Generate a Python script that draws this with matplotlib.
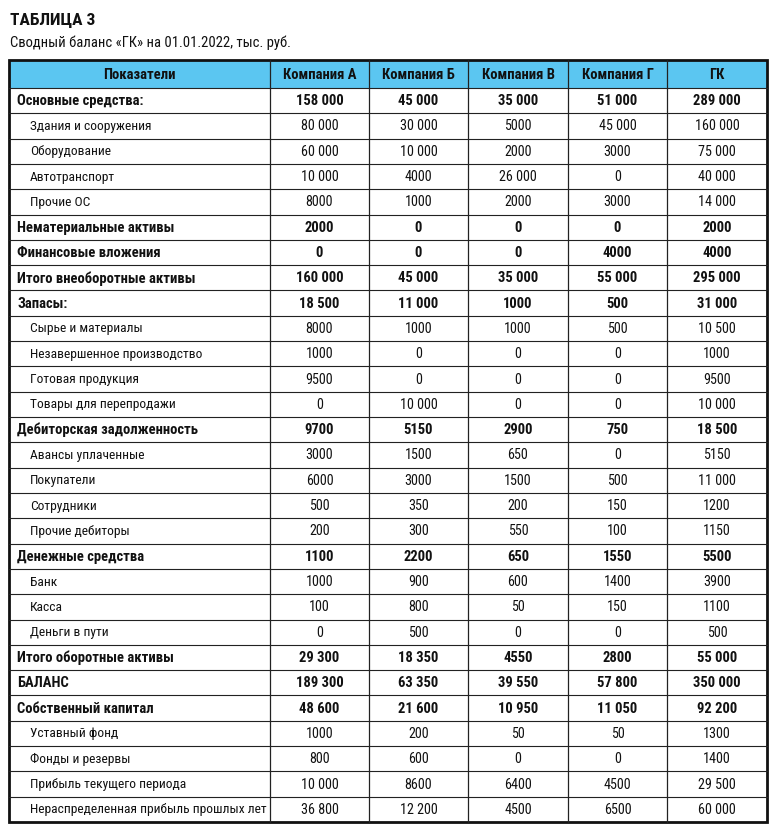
import matplotlib
matplotlib.use("Agg")
import matplotlib.pyplot as plt
from matplotlib.patches import Rectangle
from matplotlib import font_manager

names = {f.name for f in font_manager.fontManager.ttflist}
cands = ['Roboto Condensed', 'DejaVu Sans Condensed', 'Liberation Sans Narrow']
fam = [c for c in cands if c in names] + ['Liberation Sans', 'DejaVu Sans']
plt.rcParams['font.family'] = fam

title = "ТАБЛИЦА 3"
subtitle = "Сводный баланс «ГК» на 01.01.2022, тыс. руб."
columns = ["Показатели", "Компания А", "Компания Б", "Компания В", "Компания Г", "ГК"]

labels = [
    "Основные средства:", "Здания и сооружения", "Оборудование", "Автотранспорт", "Прочие ОС",
    "Нематериальные активы", "Финансовые вложения", "Итого внеоборотные активы",
    "Запасы:", "Сырье и материалы", "Незавершенное производство", "Готовая продукция",
    "Товары для перепродажи", "Дебиторская задолженность", "Авансы уплаченные", "Покупатели",
    "Сотрудники", "Прочие дебиторы", "Денежные средства", "Банк", "Касса", "Деньги в пути",
    "Итого оборотные активы", "БАЛАНС", "Собственный капитал", "Уставный фонд",
    "Фонды и резервы", "Прибыль текущего периода", "Нераспределенная прибыль прошлых лет",
]
bold_rows = [1, 0, 0, 0, 0, 1, 1, 1, 1, 0, 0, 0, 0, 1, 0, 0, 0, 0, 1, 0, 0, 0, 1, 1, 1, 0, 0, 0, 0]

comp_a = [158000, 80000, 60000, 10000, 8000, 2000, 0, 160000, 18500, 8000, 1000, 9500, 0,
          9700, 3000, 6000, 500, 200, 1100, 1000, 100, 0, 29300, 189300, 48600, 1000, 800, 10000, 36800]
comp_b = [45000, 30000, 10000, 4000, 1000, 0, 0, 45000, 11000, 1000, 0, 0, 10000,
          5150, 1500, 3000, 350, 300, 2200, 900, 800, 500, 18350, 63350, 21600, 200, 600, 8600, 12200]
comp_v = [35000, 5000, 2000, 26000, 2000, 0, 0, 35000, 1000, 1000, 0, 0, 0,
          2900, 650, 1500, 200, 550, 650, 600, 50, 0, 4550, 39550, 10950, 50, 0, 6400, 4500]
comp_g = [51000, 45000, 3000, 0, 3000, 0, 4000, 55000, 500, 500, 0, 0, 0,
          750, 0, 500, 150, 100, 1550, 1400, 150, 0, 2800, 57800, 11050, 50, 0, 4500, 6500]
gk = [289000, 160000, 75000, 40000, 14000, 2000, 4000, 295000, 31000, 10500, 1000, 9500, 10000,
      18500, 5150, 11000, 1200, 1150, 5500, 3900, 1100, 500, 55000, 350000, 92200, 1300, 1400, 29500, 60000]
series = [comp_a, comp_b, comp_v, comp_g, gk]


def fmt(v):
    if abs(v) >= 10000:
        return f"{v:,}".replace(",", " ")
    return str(v)


W, H = 777, 831
fig = plt.figure(figsize=(W / 100, H / 100), dpi=100)
ax = fig.add_axes([0, 0, 1, 1])
ax.set_xlim(0, W)
ax.set_ylim(H, 0)
ax.axis('off')

ax.text(10, 20, title, fontsize=12.5, fontweight='bold', va='center', ha='left', color='#111111')
ax.text(10, 43, subtitle, fontsize=10.5, va='center', ha='left', color='#111111')

xs = [9, 270, 369, 468, 568, 667, 767]
top, head_bot = 60, 88
n = len(labels)
row_h = (822 - head_bot) / n
bottom = head_bot + n * row_h

ax.add_patch(Rectangle((xs[0], top), xs[-1] - xs[0], head_bot - top, facecolor='#5BC6F1', edgecolor='none'))

for i, c in enumerate(columns):
    cx = (xs[i] + xs[i + 1]) / 2
    ax.text(cx, (top + head_bot) / 2 + 1, c, fontsize=10.5, fontweight='bold', ha='center', va='center', color='#111111')

for r in range(n):
    y0 = head_bot + r * row_h
    cy = y0 + row_h / 2 + 0.5
    b = bold_rows[r]
    w = 'bold' if b else 'normal'
    fs_lab = 10.5 if b else 9.7
    fs_num = 10.5 if b else 10.2
    lx = xs[0] + 8 if b else xs[0] + 21
    ax.text(lx, cy, labels[r], fontsize=fs_lab, fontweight=w, ha='left', va='center', color='#111111')
    for j, s in enumerate(series):
        cx = (xs[j + 1] + xs[j + 2]) / 2
        ax.text(cx, cy, fmt(s[r]), fontsize=fs_num, fontweight=w, ha='center', va='center', color='#111111')
    if r > 0:
        ax.plot([xs[0], xs[-1]], [y0, y0], color='#222222', lw=0.8)

ax.plot([xs[0], xs[-1]], [head_bot, head_bot], color='#222222', lw=0.8)
for x in xs[1:-1]:
    ax.plot([x, x], [top, bottom], color='#222222', lw=0.9)

ax.add_patch(Rectangle((xs[0], top), xs[-1] - xs[0], bottom - top, facecolor='none', edgecolor='#111111', lw=2.0))

fig.savefig('out.png', dpi=100)
